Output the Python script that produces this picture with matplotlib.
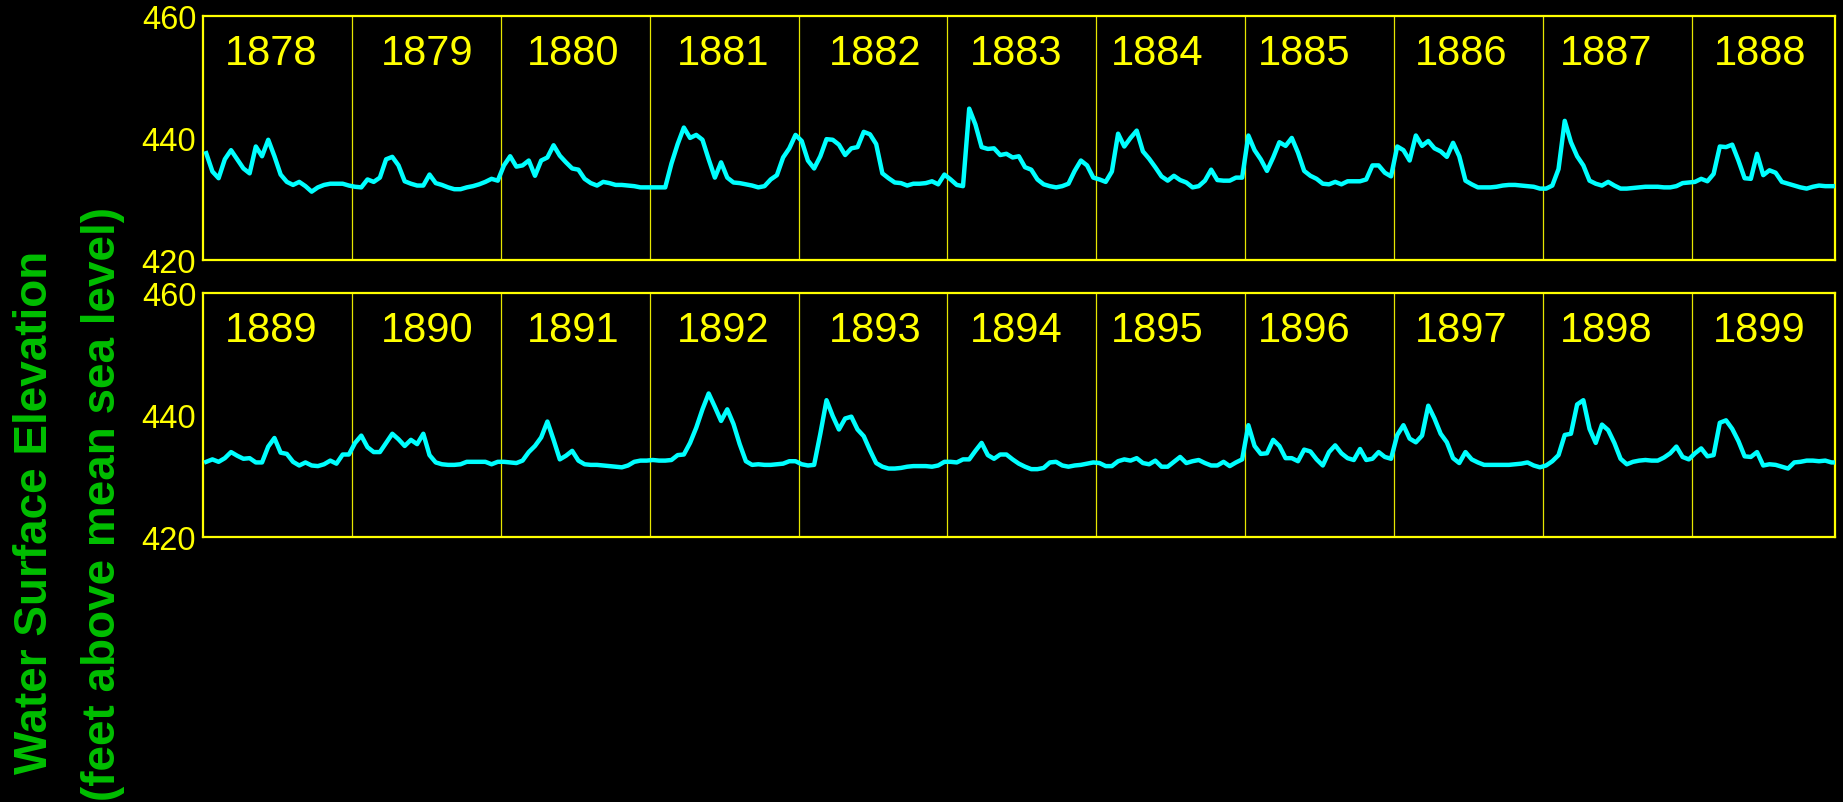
import numpy as np
import matplotlib.pyplot as plt

# water surface elevation, ~24 readings per year (ft above msl)
y1878 = [437.5, 434.5, 433.4, 436.5, 438.0, 436.5, 435.0, 434.2, 438.6, 437.0, 439.7, 437.0,
         434.0, 432.8, 432.3, 432.8, 432.1, 431.2, 431.9, 432.3, 432.5, 432.5, 432.5, 432.2]
y1879 = [432.0, 431.9, 433.2, 432.8, 433.5, 436.5, 436.9, 435.5, 432.9, 432.5, 432.2, 432.2,
         434.0, 432.6, 432.3, 431.9, 431.6, 431.6, 431.9, 432.1, 432.4, 432.8, 433.3, 433.0]
y1880 = [435.5, 437.0, 435.3, 435.5, 436.3, 433.8, 436.3, 436.8, 438.8, 437.1, 436.0, 435.0,
         434.8, 433.3, 432.6, 432.2, 432.8, 432.6, 432.3, 432.3, 432.2, 432.1, 431.9, 431.9]
y1881 = [431.9, 431.9, 431.9, 435.8, 439.0, 441.7, 440.0, 440.5, 439.7, 436.5, 433.5, 436.0,
         433.5, 432.7, 432.6, 432.4, 432.2, 431.9, 432.1, 433.2, 433.9, 436.8, 438.3, 440.5]
y1882 = [439.5, 436.3, 435.0, 437.0, 439.8, 439.7, 438.9, 437.2, 438.3, 438.5, 441.0, 440.6,
         439.0, 434.2, 433.4, 432.7, 432.6, 432.2, 432.5, 432.5, 432.6, 432.9, 432.4, 434.0]
y1883 = [433.2, 432.3, 432.1, 444.8, 442.2, 438.5, 438.2, 438.3, 437.2, 437.4, 436.8, 437.0,
         435.2, 434.8, 433.2, 432.4, 432.1, 431.9, 432.1, 432.5, 434.6, 436.3, 435.5, 433.5]
y1884 = [433.2, 432.8, 434.5, 440.7, 438.6, 440.0, 441.2, 437.8, 436.6, 435.2, 433.7, 433.0,
         433.8, 433.1, 432.7, 431.9, 432.1, 433.0, 434.8, 433.1, 433.0, 433.0, 433.5, 433.5]
y1885 = [440.4, 438.0, 436.5, 434.6, 436.8, 439.3, 438.7, 440.0, 437.6, 434.6, 433.8, 433.3,
         432.5, 432.4, 432.8, 432.4, 432.9, 432.9, 432.9, 433.2, 435.5, 435.5, 434.3, 433.7]
y1886 = [438.6, 438.0, 436.3, 440.4, 438.7, 439.5, 438.3, 437.8, 436.9, 439.2, 437.0, 433.0,
         432.4, 431.9, 431.9, 431.9, 432.0, 432.2, 432.3, 432.3, 432.2, 432.1, 432.0, 431.7]
y1887 = [431.7, 432.2, 434.9, 442.8, 439.3, 437.0, 435.5, 433.0, 432.5, 432.2, 432.8, 432.2,
         431.7, 431.7, 431.8, 431.9, 432.0, 432.0, 432.0, 431.9, 431.9, 432.1, 432.6, 432.7]
y1888 = [432.8, 433.3, 432.9, 434.1, 438.6, 438.5, 438.9, 436.3, 433.4, 433.3, 437.4, 433.9,
         434.7, 434.3, 432.8, 432.5, 432.2, 431.9, 431.7, 432.0, 432.2, 432.1, 432.1, 432.1]
y1889 = [432.4, 432.8, 432.4, 433.0, 434.0, 433.4, 432.9, 433.0, 432.3, 432.3, 434.9, 436.3,
         433.9, 433.7, 432.4, 431.8, 432.3, 431.8, 431.7, 432.0, 432.6, 432.1, 433.6, 433.6]
y1890 = [435.5, 436.7, 434.8, 434.0, 434.0, 435.5, 437.0, 436.1, 435.0, 436.0, 435.3, 437.0,
         433.5, 432.3, 432.0, 431.9, 431.9, 432.0, 432.4, 432.4, 432.4, 432.4, 432.0, 432.4]
y1891 = [432.4, 432.3, 432.2, 432.6, 434.0, 435.0, 436.4, 439.0, 436.0, 432.8, 433.4, 434.2,
         432.6, 432.0, 431.9, 431.9, 431.8, 431.7, 431.6, 431.5, 431.8, 432.4, 432.6, 432.6]
y1892 = [432.7, 432.6, 432.6, 432.7, 433.5, 433.6, 435.5, 438.0, 441.0, 443.6, 441.4, 439.1,
         441.0, 438.6, 435.3, 432.5, 431.9, 432.0, 431.9, 431.9, 432.0, 432.1, 432.5, 432.5]
y1893 = [432.0, 431.8, 431.9, 437.0, 442.5, 439.9, 437.7, 439.5, 439.8, 437.7, 436.6, 434.3,
         432.2, 431.6, 431.3, 431.3, 431.4, 431.6, 431.7, 431.7, 431.7, 431.6, 431.8, 432.4]
y1894 = [432.4, 432.3, 432.8, 432.8, 434.2, 435.5, 433.5, 432.9, 433.6, 433.6, 432.8, 432.1,
         431.6, 431.2, 431.2, 431.4, 432.3, 432.4, 431.8, 431.6, 431.8, 431.9, 432.1, 432.3]
y1895 = [432.2, 431.7, 431.7, 432.5, 432.8, 432.6, 433.0, 432.2, 432.0, 432.6, 431.6, 431.6,
         432.4, 433.2, 432.2, 432.5, 432.7, 432.2, 431.8, 431.8, 432.4, 431.7, 432.3, 432.8]
y1896 = [438.4, 435.0, 433.7, 433.8, 436.0, 435.0, 433.0, 433.0, 432.5, 434.4, 434.1, 432.8,
         431.8, 434.0, 435.1, 433.8, 433.0, 432.7, 434.5, 432.7, 432.9, 434.0, 433.2, 432.9]
y1897 = [436.8, 438.4, 436.2, 435.6, 436.7, 441.6, 439.5, 437.0, 435.6, 433.0, 432.2, 434.0,
         432.8, 432.3, 431.9, 431.9, 431.9, 431.9, 431.9, 432.0, 432.1, 432.3, 431.8, 431.5]
y1898 = [431.8, 432.5, 433.5, 436.8, 437.0, 441.8, 442.5, 437.8, 435.5, 438.5, 437.6, 435.5,
         432.9, 432.0, 432.4, 432.6, 432.7, 432.6, 432.6, 433.1, 433.8, 434.9, 433.2, 432.8]
y1899 = [433.8, 434.6, 433.3, 433.5, 438.8, 439.2, 437.8, 435.8, 433.3, 433.2, 434.0, 431.8,
         432.0, 431.9, 431.6, 431.3, 432.3, 432.4, 432.6, 432.6, 432.5, 432.6, 432.3, 432.3]

years_top = [1878, 1879, 1880, 1881, 1882, 1883, 1884, 1885, 1886, 1887, 1888]
years_bottom = [1889, 1890, 1891, 1892, 1893, 1894, 1895, 1896, 1897, 1898, 1899]
series_top = [y1878, y1879, y1880, y1881, y1882, y1883, y1884, y1885, y1886, y1887, y1888]
series_bottom = [y1889, y1890, y1891, y1892, y1893, y1894, y1895, y1896, y1897, y1898, y1899]
yticks = [420, 440, 460]

# where each year label sits inside its column (fraction of a year)
label_pos = [0.456, 0.503, 0.485, 0.495, 0.517, 0.463, 0.407, 0.393, 0.453, 0.426, 0.455]

YEL = '#ffff00'
CYAN = '#00ffff'
GREEN = '#00bf00'
plt.rcParams['font.family'] = ['Liberation Sans', 'DejaVu Sans']

fig = plt.figure(figsize=(18.43, 8.03), dpi=100, facecolor='black')

rows = [(0.67497, years_top, series_top), (0.32939, years_bottom, series_bottom)]
for bottom, years, series in rows:
    ax = fig.add_axes([0.1102, bottom, 0.8852, 0.3040])
    ax.set_facecolor('black')

    vals = np.concatenate(series)
    n = len(series[0])
    t = np.concatenate([k + (np.arange(n) + 0.5) / n for k in range(len(series))])
    ax.plot(t, vals, color=CYAN, lw=3.2, solid_joinstyle='round', zorder=3)

    for k in range(1, len(years)):
        ax.axvline(k, color='#e6e600', lw=0.9, zorder=2)
    for k, yr in enumerate(years):
        ax.text(k + label_pos[k], 0.804, str(yr), transform=ax.get_xaxis_transform(),
                ha='center', va='baseline', color=YEL, fontsize=30)

    ax.set_xlim(0, 10.958)
    ax.set_ylim(420, 460)
    ax.set_yticks(yticks)
    ax.set_xticks([])
    ax.tick_params(axis='y', length=0, pad=5, labelsize=23.5, labelcolor=YEL)
    for s in ax.spines.values():
        s.set_color(YEL)
        s.set_linewidth(1.6)

fig.text(0.0255, 0.3618, 'Water Surface Elevation', rotation=90, rotation_mode='anchor',
         ha='center', va='baseline', color=GREEN, fontsize=33, fontweight='bold')
fig.text(0.0624, 0.372, '(feet above mean sea level)', rotation=90, rotation_mode='anchor',
         ha='center', va='baseline', color=GREEN, fontsize=33, fontweight='bold')

fig.savefig('out.png', dpi=100, facecolor='black')
